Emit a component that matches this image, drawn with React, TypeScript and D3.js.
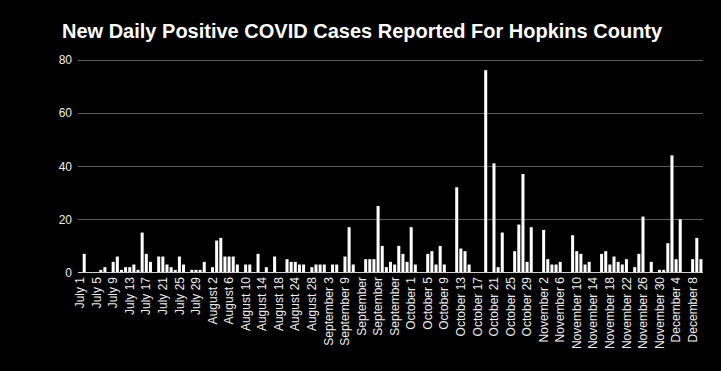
import React from 'react';
import * as d3 from 'd3';

const TITLE = 'New Daily Positive COVID Cases Reported For Hopkins County';

// New daily positive cases, one value per reported day (July 1 → mid December)
const dailyCases: number[] = [
  7, 0, 0, 0, 1, 2, 0, 4, 6, 1,
  2, 2, 3, 1, 15, 7, 4, 0, 6, 6,
  3, 2, 1, 6, 3, 0, 1, 1, 1, 4,
  0, 2, 12, 13, 6, 6, 6, 3, 0, 3,
  3, 0, 7, 0, 2, 0, 6, 0, 0, 5,
  4, 4, 3, 3, 0, 2, 3, 3, 3, 0,
  3, 3, 0, 6, 17, 3, 0, 0, 5, 5,
  5, 25, 10, 2, 4, 3, 10, 7, 4, 17,
  3, 0, 0, 7, 8, 3, 10, 3, 0, 0,
  32, 9, 8, 3, 0, 0, 0, 76, 0, 41,
  2, 15, 0, 0, 8, 18, 37, 4, 17, 0,
  0, 16, 5, 3, 3, 4, 0, 0, 14, 8,
  7, 3, 4, 0, 0, 7, 8, 3, 6, 4,
  3, 5, 0, 2, 7, 21, 0, 4, 0, 1,
  1, 11, 44, 5, 20, 0, 0, 5, 13, 5,
];

// Category labels shown on the axis (every 4th category)
const tickLabels: string[] = [
  'July 1', 'July 5', 'July 9', 'July 13', 'July 17', 'July 21', 'July 25', 'July 29',
  'August 2', 'August 6', 'August 10', 'August 14', 'August 18', 'August 24', 'August 28',
  'September 3', 'September 9', 'September', 'September', 'September',
  'October 1', 'October 5', 'October 9', 'October 13', 'October 17', 'October 21',
  'October 25', 'October 29', 'November 2', 'November 6', 'November 10', 'November 14',
  'November 18', 'November 22', 'November 26', 'November 30', 'December 4', 'December 8',
];
const TICK_EVERY = 4;

const yTicks: number[] = [0, 20, 40, 60, 80];

const FONT = '"Liberation Sans", Arial, sans-serif';

export default function App() {
  const W = 721;
  const H = 371;
  const plotLeft = 78;
  const plotRight = 703;
  const plotTop = 59.5;
  const plotBottom = 272.5;

  const n = dailyCases.length;
  const lead = (plotRight - plotLeft) / (n + 1);
  const pad = 0.27;
  const x = d3
    .scaleBand<number>()
    .domain(d3.range(n))
    .range([plotLeft + lead, plotRight])
    .paddingInner(pad)
    .paddingOuter(pad / 2);
  const y = d3.scaleLinear().domain([0, 80]).range([plotBottom, plotTop]);

  return (
    <svg
      width={W}
      height={H}
      style={{ position: 'absolute', left: 0, top: 0, display: 'block' }}
    >
      <rect x={0} y={0} width={W} height={H} fill="#000" />
      <text
        x={62}
        y={38}
        fill="#fff"
        fontFamily={FONT}
        fontWeight="bold"
        fontSize={20}
      >
        {TITLE}
      </text>
      {yTicks.map((t) =>
        t === 0 ? null : (
          <line
            key={'g' + t}
            x1={plotLeft}
            x2={plotRight}
            y1={Math.round(y(t)) + 0.5}
            y2={Math.round(y(t)) + 0.5}
            stroke="#5a5a5a"
            strokeWidth={1}
          />
        )
      )}
      {yTicks.map((t) => (
        <text
          key={'yl' + t}
          x={72}
          y={y(t) + 4.5}
          fill="#eeeeee"
          fontFamily={FONT}
          fontSize={12}
          textAnchor="end"
        >
          {t}
        </text>
      ))}
      {dailyCases.map((v, i) =>
        v > 0 ? (
          <rect
            key={'b' + i}
            x={x(i)!}
            y={y(v)}
            width={x.bandwidth()}
            height={y(0) - y(v)}
            fill="#ffffff"
          />
        ) : null
      )}
      <line
        x1={plotLeft}
        x2={plotRight}
        y1={plotBottom}
        y2={plotBottom}
        stroke="#d0d0d0"
        strokeWidth={1}
      />
      {tickLabels.map((lab, k) => {
        const i = k * TICK_EVERY;
        const cx = x(i)! + x.bandwidth() / 2;
        const cy = 277;
        return (
          <text
            key={'xl' + k}
            x={cx}
            y={cy}
            transform={`rotate(-90, ${cx}, ${cy})`}
            fill="#eeeeee"
            fontFamily={FONT}
            fontSize={12}
            textAnchor="end"
          >
            {lab}
          </text>
        );
      })}
    </svg>
  );
}
